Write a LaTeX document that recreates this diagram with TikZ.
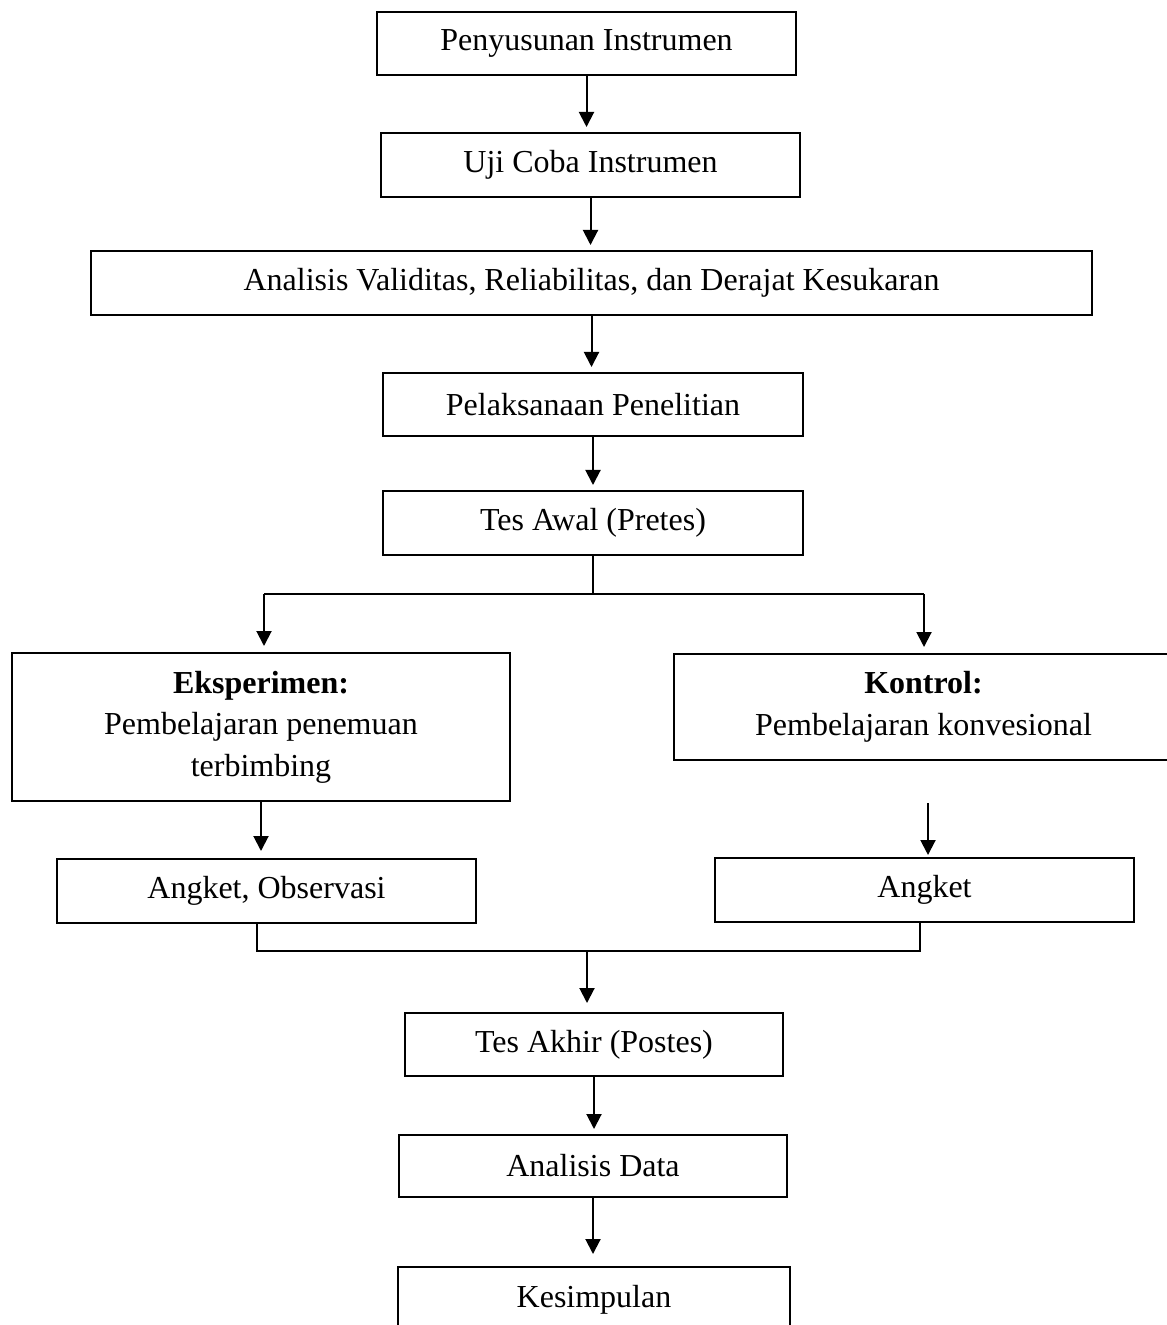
\documentclass[tikz,border=0pt]{standalone}
\usepackage{fontspec}
\setmainfont{Liberation Serif}
\usepackage{tikz}
\usetikzlibrary{arrows.meta,positioning,calc}

\begin{document}
\begin{tikzpicture}[
    x=0.5pt, y=-0.5pt,
    box/.style={rectangle, draw=black, line width=1pt, align=center, inner sep=0pt, minimum height=32pt, font=\fontsize{16}{20.75}\selectfont},
    arr/.style={-{Triangle[length=7.5pt,width=7.5pt]}, line width=1pt, draw=black, shorten >=2.5pt},
    ln/.style={line width=1pt, draw=black}
]
    \useasboundingbox (0,0) rectangle (1166,1325);

    % main chain
    \node [box, minimum width=209.5pt, minimum height=31.5pt] (pen) at (586.5,43.5) {Penyusunan Instrumen};
    \node [box, minimum width=209.5pt] (uji) at (590.5,165) {Uji Coba Instrumen};
    \node [box, minimum width=500.5pt] (ana) at (591.5,283) {Analisis Validitas, Reliabilitas, dan Derajat Kesukaran};
    \node [box, minimum width=210pt, minimum height=31.5pt] (pel) at (593,404.5) {Pelaksanaan Penelitian};
    \node [box, minimum width=210pt] (tesawal) at (593,523) {Tes Awal (Pretes)};

    % two groups
    \node [box, minimum width=249pt, minimum height=74pt] (eks) at (261,727) {\textbf{Eksperimen:}\\Pembelajaran penemuan\\terbimbing};
    \node [box, minimum width=249.5pt, minimum height=53pt] (kon) at (923.5,707) {\textbf{Kontrol:}\\Pembelajaran konvesional};
    \node [box, minimum width=209.5pt] (ao) at (266.5,891) {Angket, Observasi};
    \node [box, minimum width=209.5pt] (ang) at (924.5,890) {Angket};

    % end of chain
    \node [box, minimum width=189pt, minimum height=31.5pt] (tesakhir) at (594,1044.5) {Tes Akhir (Postes)};
    \node [box, minimum width=194pt, minimum height=31pt] (data) at (593,1166) {Analisis Data};
    \node [box, minimum width=196pt, minimum height=32.5pt] (kes) at (594,1299.5) {Kesimpulan};

    \coordinate (splitL) at (264,594);
    \coordinate (splitR) at (924,594);
    \coordinate (kongap) at (928,803);
    \coordinate (mergeL) at (257,951);
    \coordinate (mergeR) at (920,951);
    \coordinate (mergeM) at (587,951);

    \draw [arr] (pen.south) -- (pen.south |- uji.north);
    \draw [arr] (uji.south) -- (uji.south |- ana.north);
    \draw [arr] (ana.south) -- (ana.south |- pel.north);
    \draw [arr] (pel.south) -- (pel.south |- tesawal.north);

    % split
    \draw [ln] (tesawal.south) -- (tesawal.south |- splitL);
    \draw [ln] (splitL) -- (splitR);
    \draw [arr, shorten >=3pt] (splitL) -- (splitL |- eks.north);
    \draw [arr, shorten >=3pt] (splitR) -- (splitR |- kon.north);

    \draw [arr, shorten >=3.5pt] (eks.south) -- (eks.south |- ao.north);
    \draw [arr, shorten >=1pt] (kongap) -- (kongap |- ang.north);

    % merge
    \draw [ln] (ao.south -| mergeL) -- (mergeL) -- (mergeR) -- (ang.south -| mergeR);
    \draw [arr, shorten >=4.5pt] (mergeM) -- (mergeM |- tesakhir.north);

    \draw [arr] (tesakhir.south) -- (tesakhir.south |- data.north);
    \draw [arr, shorten >=6pt] (data.south) -- (data.south |- kes.north);
\end{tikzpicture}
\end{document}
